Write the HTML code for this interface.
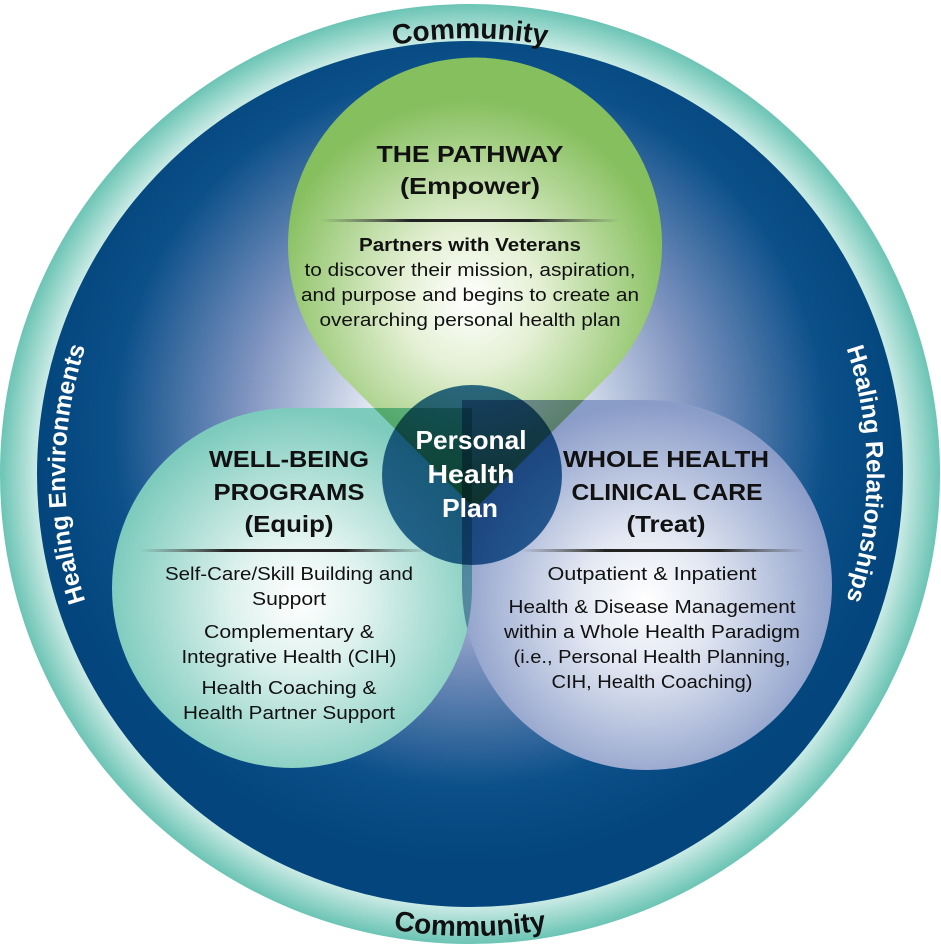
<!DOCTYPE html>
<html><head><meta charset="utf-8"><style>
html,body{margin:0;padding:0;background:#fff;width:941px;height:949px;overflow:hidden}
svg{display:block}
text{font-family:"Liberation Sans",sans-serif}
</style></head><body>
<svg width="941" height="949" viewBox="0 0 941 949" xmlns="http://www.w3.org/2000/svg">
<defs>
<radialGradient id="ring" cx="470" cy="474" r="472" gradientUnits="userSpaceOnUse">
<stop offset="0.91" stop-color="#d2eee9"/><stop offset="1" stop-color="#66c2b2"/></radialGradient>
<radialGradient id="blue" cx="470" cy="430" r="434" gradientUnits="userSpaceOnUse">
<stop offset="0" stop-color="#ffffff"/><stop offset="0.22" stop-color="#e6ebf5"/><stop offset="0.52" stop-color="#7f94c0"/><stop offset="0.82" stop-color="#0c508a"/><stop offset="1" stop-color="#03457c"/></radialGradient>
<radialGradient id="green" cx="470" cy="300" r="200" gradientUnits="userSpaceOnUse">
<stop offset="0" stop-color="#ffffff"/><stop offset="0.35" stop-color="#e4f0d4"/><stop offset="1" stop-color="#86bf5e"/></radialGradient>
<radialGradient id="teal" cx="300" cy="600" r="190" gradientUnits="userSpaceOnUse">
<stop offset="0" stop-color="#ffffff"/><stop offset="0.35" stop-color="#dff2ee"/><stop offset="1" stop-color="#7dcbbd"/></radialGradient>
<radialGradient id="lav" cx="645" cy="600" r="195" gradientUnits="userSpaceOnUse">
<stop offset="0" stop-color="#ffffff"/><stop offset="0.35" stop-color="#e2e7f2"/><stop offset="1" stop-color="#8a9cc8"/></radialGradient>
<linearGradient id="rule" x1="0" x2="1"><stop offset="0" stop-color="#333" stop-opacity="0"/><stop offset="0.3" stop-color="#222"/><stop offset="0.7" stop-color="#222"/><stop offset="1" stop-color="#333" stop-opacity="0"/></linearGradient>
<path id="ptop" d="M 34 474 A 436 436 0 0 1 906 474"/>
<path id="pbot" d="M 8 474 A 462 462 0 0 0 932 474"/>
<path id="pleft" d="M 470 879 A 405 405 0 0 1 470 69"/>
<path id="pright" d="M 470 77 A 397 397 0 0 1 470 871"/>
</defs>
<circle cx="470" cy="474" r="470" fill="url(#ring)"/>
<circle cx="470" cy="474" r="433" fill="url(#blue)"/>
<g style="isolation:isolate">
<path d="M 343 377 A 187 187 0 1 1 607 377 L 475 509 Z" fill="url(#green)" style="mix-blend-mode:multiply"/>
<path d="M 292 408 L 472 408 L 472 588 A 180 180 0 1 1 292 408 Z" fill="url(#teal)" style="mix-blend-mode:multiply"/>
<path d="M 462 400 L 647 400 A 185 185 0 1 1 462 585 Z" fill="url(#lav)" style="mix-blend-mode:multiply"/>
<circle cx="472" cy="475" r="90" fill="#0d5690" fill-opacity="0.85" style="mix-blend-mode:multiply"/>
</g>
<text font-size="28" font-weight="bold" fill="#111" text-anchor="middle"><textPath href="#ptop" startOffset="50%">Community</textPath></text>
<text font-size="28" font-weight="bold" fill="#111" text-anchor="middle"><textPath href="#pbot" startOffset="50%">Community</textPath></text>
<text font-size="24.5" font-weight="bold" fill="#fff" text-anchor="middle"><textPath href="#pleft" startOffset="50%">Healing Environments</textPath></text>
<text font-size="24.5" font-weight="bold" fill="#fff" text-anchor="middle"><textPath href="#pright" startOffset="50%">Healing Relationships</textPath></text>

<g text-anchor="middle" fill="#111">
<text x="470" y="162" font-size="23" font-weight="bold" textLength="187" lengthAdjust="spacingAndGlyphs">THE PATHWAY</text>
<text x="470" y="194" font-size="23" font-weight="bold" textLength="140" lengthAdjust="spacingAndGlyphs">(Empower)</text>
<rect x="320" y="219" width="300" height="3" fill="url(#rule)"/>
<text x="470" y="251" font-size="18" font-weight="bold" textLength="222" lengthAdjust="spacingAndGlyphs">Partners with Veterans</text>
<text x="470" y="276" font-size="18.5" textLength="331" lengthAdjust="spacingAndGlyphs">to discover their mission, aspiration,</text>
<text x="470" y="301" font-size="18.5" textLength="338" lengthAdjust="spacingAndGlyphs">and purpose and begins to create an</text>
<text x="470" y="326" font-size="18.5" textLength="301" lengthAdjust="spacingAndGlyphs">overarching personal health plan</text>

<text x="289" y="467" font-size="23" font-weight="bold" textLength="160" lengthAdjust="spacingAndGlyphs">WELL-BEING</text>
<text x="289" y="500" font-size="23" font-weight="bold" textLength="151" lengthAdjust="spacingAndGlyphs">PROGRAMS</text>
<text x="289" y="532" font-size="23" font-weight="bold" textLength="89" lengthAdjust="spacingAndGlyphs">(Equip)</text>
<rect x="140" y="549" width="290" height="3" fill="url(#rule)"/>
<text x="289" y="580" font-size="18.5" textLength="248" lengthAdjust="spacingAndGlyphs">Self-Care/Skill Building and</text>
<text x="289" y="605" font-size="18.5" textLength="74" lengthAdjust="spacingAndGlyphs">Support</text>
<text x="289" y="638" font-size="18.5" textLength="170" lengthAdjust="spacingAndGlyphs">Complementary &amp;</text>
<text x="289" y="663" font-size="18.5" textLength="215" lengthAdjust="spacingAndGlyphs">Integrative Health (CIH)</text>
<text x="289" y="694" font-size="18.5" textLength="175" lengthAdjust="spacingAndGlyphs">Health Coaching &amp;</text>
<text x="289" y="719" font-size="18.5" textLength="212" lengthAdjust="spacingAndGlyphs">Health Partner Support</text>

<text x="666" y="467" font-size="23" font-weight="bold" textLength="206" lengthAdjust="spacingAndGlyphs">WHOLE HEALTH</text>
<text x="667" y="500" font-size="23" font-weight="bold" textLength="191" lengthAdjust="spacingAndGlyphs">CLINICAL CARE</text>
<text x="666" y="532" font-size="23" font-weight="bold" textLength="79" lengthAdjust="spacingAndGlyphs">(Treat)</text>
<rect x="520" y="549" width="285" height="3" fill="url(#rule)"/>
<text x="652" y="580" font-size="18.5" textLength="209" lengthAdjust="spacingAndGlyphs">Outpatient &amp; Inpatient</text>
<text x="652" y="613" font-size="18.5" textLength="287" lengthAdjust="spacingAndGlyphs">Health &amp; Disease Management</text>
<text x="652" y="638" font-size="18.5" textLength="296" lengthAdjust="spacingAndGlyphs">within a Whole Health Paradigm</text>
<text x="652" y="663" font-size="18.5" textLength="277" lengthAdjust="spacingAndGlyphs">(i.e., Personal Health Planning,</text>
<text x="652" y="688" font-size="18.5" textLength="201" lengthAdjust="spacingAndGlyphs">CIH, Health Coaching)</text>
</g>
<g text-anchor="middle" fill="#fff" font-size="26" font-weight="bold">
<text x="471" y="449" textLength="111" lengthAdjust="spacingAndGlyphs">Personal</text>
<text x="471" y="483" textLength="87" lengthAdjust="spacingAndGlyphs">Health</text>
<text x="470" y="517" textLength="56" lengthAdjust="spacingAndGlyphs">Plan</text>
</g>
</svg>
</body></html>
